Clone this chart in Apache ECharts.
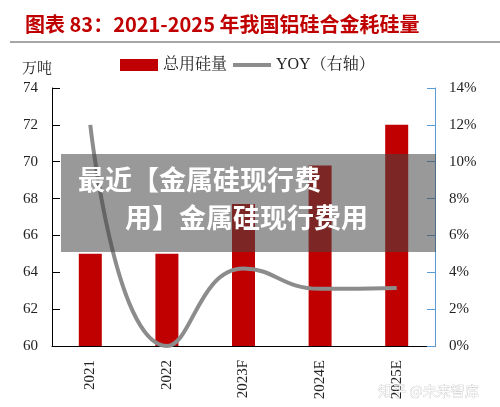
<!DOCTYPE html><html><head><meta charset="utf-8"><script src="https://cdn.jsdelivr.net/npm/echarts@6/dist/echarts.min.js"></script></head><body style="margin:0"><div id="c" style="width:500px;height:407px"></div><script>
var categories=['2021','2022','2023F','2024E','2025E'];
var totalSi=[65,65,67.7,69.8,72];
var yoy=[12,0,4.2,3.1,3.15];
var leftTicks=[60,74,2];
var rightTicks=[0,14,2];
var serif='"Liberation Serif","Noto Serif CJK SC","Noto Sans CJK SC",serif';
var ch=echarts.init(document.getElementById('c'));
ch.setOption({
animation:false,backgroundColor:'#fff',
title:{text:'图表 83：2021-2025 年我国铝硅合金耗硅量',left:20,top:9,textStyle:{color:'#c00000',fontSize:20,fontWeight:'bold',fontFamily:'"Noto Sans CJK SC"'}},
legend:{top:52,left:115,itemGap:6,textStyle:{fontFamily:serif,fontSize:16,color:'#222'},data:[{name:'总用硅量',icon:'rect'},{name:'YOY（右轴）',icon:'path://M0,0H40V4H0Z',itemStyle:{color:'#8c8c8c'}}],itemWidth:38,itemHeight:12},
grid:{left:52,right:65,top:88,bottom:61},
xAxis:{type:'category',data:categories,axisTick:{show:false},axisLine:{lineStyle:{color:'#000'}},axisLabel:{rotate:90,fontFamily:serif,fontSize:15,color:'#222',margin:14}},
yAxis:[{type:'value',min:leftTicks[0],max:leftTicks[1],interval:leftTicks[2],splitLine:{show:false},axisLine:{show:true,lineStyle:{color:'#000'}},axisTick:{show:true,inside:true,length:8},axisLabel:{fontFamily:serif,fontSize:15,color:'#222',margin:14}},
{type:'value',min:rightTicks[0],max:rightTicks[1],interval:rightTicks[2],splitLine:{show:false},axisLine:{show:true,lineStyle:{color:'#5b9bd5'}},axisTick:{show:true,inside:true,length:8},axisLabel:{formatter:'{value}%',fontFamily:serif,fontSize:15,color:'#222',margin:14}}],
series:[{name:'总用硅量',type:'bar',data:totalSi,barWidth:23,itemStyle:{color:'#c00000'}},
{name:'YOY（右轴）',type:'line',yAxisIndex:1,data:yoy,smooth:true,symbol:'none',lineStyle:{color:'#8c8c8c',width:4},itemStyle:{color:'#8c8c8c'}}],
graphic:[
{type:'line',shape:{x1:10,y1:42,x2:500,y2:42},style:{stroke:'#888',lineWidth:1.5}},
{type:'text',left:22,top:62,style:{text:'万吨',font:'15px '+serif,fill:'#222'}},
{type:'rect',shape:{x:61,y:154,width:375,height:98},style:{fill:'rgba(70,70,70,0.55)'},z:100},
{type:'text',left:78,top:166,z:101,style:{text:'最近【金属硅现行费',font:'bold 27px "Noto Sans CJK SC"',fill:'#fff'}},
{type:'text',left:125,top:204,z:101,style:{text:'用】金属硅现行费用',font:'bold 27px "Noto Sans CJK SC"',fill:'#fff'}},
{type:'text',left:378,top:383,z:101,style:{text:'知乎 @未来智库',font:'14px "Noto Sans CJK SC"',fill:'rgba(255,255,255,0.85)',stroke:'rgba(0,0,0,0.3)',lineWidth:0.5}}
]});
</script></body></html>
